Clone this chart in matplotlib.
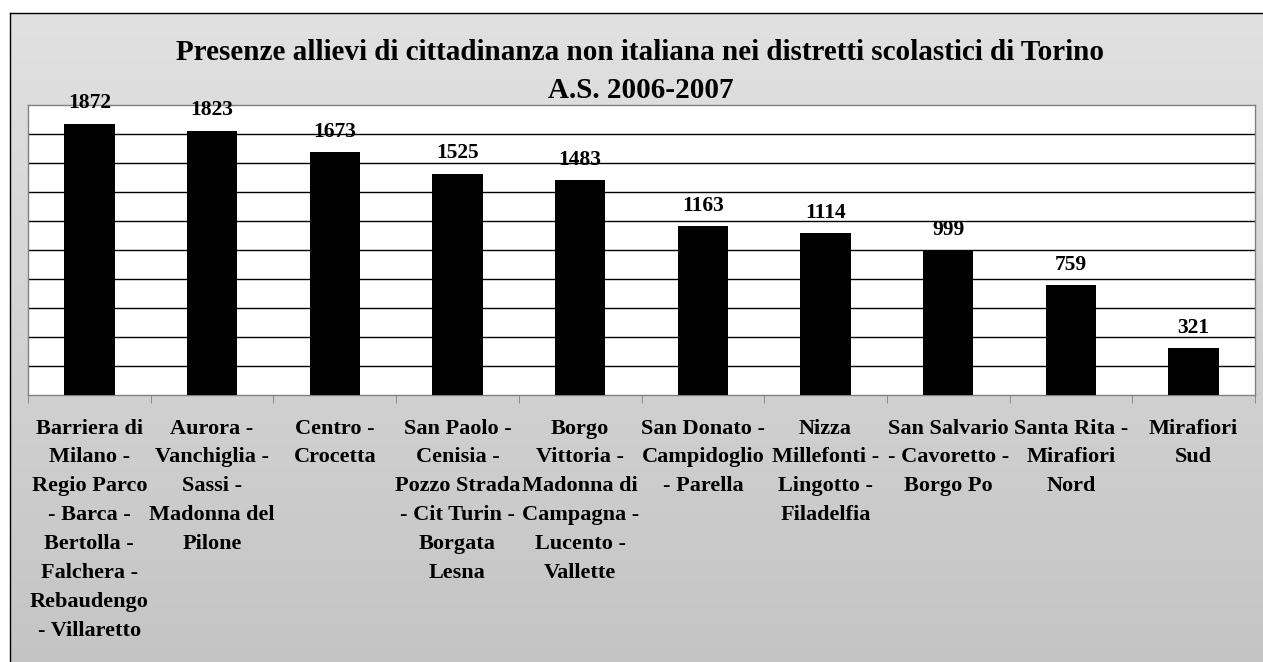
import matplotlib.pyplot as plt
import numpy as np
from matplotlib.colors import LinearSegmentedColormap

plt.rcParams['font.family'] = ['Liberation Serif', 'DejaVu Serif']
plt.rcParams['font.weight'] = 'bold'

labels = ["Barriera di\nMilano -\nRegio Parco\n- Barca -\nBertolla -\nFalchera -\nRebaudengo\n- Villaretto",
          "Aurora -\nVanchiglia -\nSassi -\nMadonna del\nPilone",
          "Centro -\nCrocetta",
          "San Paolo -\nCenisia -\nPozzo Strada\n- Cit Turin -\nBorgata\nLesna",
          "Borgo\nVittoria -\nMadonna di\nCampagna -\nLucento -\nVallette",
          "San Donato -\nCampidoglio\n- Parella",
          "Nizza\nMillefonti -\nLingotto -\nFiladelfia",
          "San Salvario\n- Cavoretto -\nBorgo Po",
          "Santa Rita -\nMirafiori\nNord",
          "Mirafiori\nSud"]
values = [1872, 1823, 1673, 1525, 1483, 1163, 1114, 999, 759, 321]
title1 = "Presenze allievi di cittadinanza non italiana nei distretti scolastici di Torino"
title2 = "A.S. 2006-2007"

W, H = 1263, 662
fig = plt.figure(figsize=[W/100., H/100.], dpi=100)

# gradient background with frame on top/left
bg = fig.add_axes([10./W, -0.05, 1.0, (H-13.)/H + 0.05])
grey = LinearSegmentedColormap.from_list('g', ['#C3C3C3', '#E1E1E1'])
grad = np.linspace(0, 1, 256).reshape(-1, 1)
bg.imshow(grad, cmap=grey, aspect='auto', extent=[0, 1, 0, 1], origin='lower')
bg.set_xticks([])
bg.set_yticks([])
for s in ['top', 'left']:
    bg.spines[s].set_color('black')
    bg.spines[s].set_linewidth(1.0)

ax = fig.add_axes([28./W, (H-395.)/H, (1255.-28.)/W, 290./H])
x = np.arange(len(values))
ax.bar(x, values, width=0.41, color='black', zorder=3)
ax.set_xlim(-0.5, len(values)-0.5)
ax.set_ylim(0, 2000)
ax.set_yticks(np.arange(200, 2000, 200))
ax.yaxis.grid(True, color='black', linewidth=1.0)
ax.tick_params(axis='y', length=0, labelleft=False)
ax.set_facecolor('white')
for s in ax.spines.values():
    s.set_color('#808080')
    s.set_linewidth(1.0)

ax.set_xticks(x)
ax.set_xticklabels(labels, fontsize=16, fontweight='bold', linespacing=1.59)
ax.set_xticks(np.arange(-0.5, len(values), 1), minor=True)
ax.tick_params(axis='x', which='major', length=0, pad=17)
ax.tick_params(axis='x', which='minor', length=6, color='#808080', direction='out')

for xi, v in zip(x, values):
    ax.annotate(str(v), (xi, v), xytext=(0, 7.5), textcoords='offset points',
                ha='center', va='bottom', fontsize=15.5, fontweight='bold')

fig.text(0.507, 1 - 52./H, title1, ha='center', va='center', fontsize=21, fontweight='bold')
fig.text(0.507, 1 - 90./H, title2, ha='center', va='center', fontsize=21, fontweight='bold')

plt.savefig('out.png', dpi=100)
